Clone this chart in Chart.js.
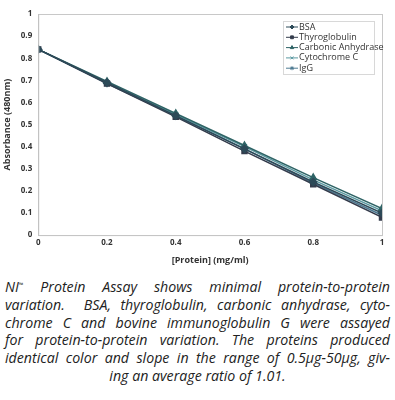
<!DOCTYPE html>
<html>
<head>
<meta charset="utf-8">
<script src="https://cdn.jsdelivr.net/npm/chart.js@4"></script>
<style>
    body { margin: 0; background: #fff; width: 395px; height: 400px; overflow: hidden; }
    #wrap { position: relative; width: 395px; height: 268px; }
    #caption {
        margin: 10px 5px 0 5px;
        font-family: "Open Sans", sans-serif;
        font-style: italic;
        font-size: 14.2px;
        line-height: 17.8px;
        color: #222;
    }
    #caption div { height: 17.8px; text-align: justify; text-align-last: justify; white-space: nowrap; }
    #caption div.last { text-align-last: center; }
    sup { font-size: 6px; line-height: 0; vertical-align: 5px; }
</style>
</head>
<body>
<div id="wrap"><canvas id="lineChart"></canvas></div>
<div id="caption">
    <div>NI<sup>™</sup> Protein Assay shows minimal protein-to-protein</div>
    <div>variation.&nbsp; BSA, thyroglobulin, carbonic anhydrase, cyto-</div>
    <div>chrome C and bovine immunoglobulin G were assayed</div>
    <div>for protein-to-protein variation. The proteins produced</div>
    <div>identical color and slope in the range of 0.5µg-50µg, giv-</div>
    <div class="last">ing an average ratio of 1.01.</div>
</div>
<script>
const proteinConc = [0, 0.2, 0.4, 0.6, 0.8, 1];
const seriesNames = ['BSA', 'Thyroglobulin', 'Carbonic Anhydrase', 'Cytochrome C', 'IgG'];
const bsaValues = [0.84, 0.69, 0.54, 0.39, 0.24, 0.10];
const thyroValues = [0.84, 0.685, 0.535, 0.38, 0.23, 0.08];
const carbonicValues = [0.84, 0.695, 0.55, 0.405, 0.26, 0.12];
const cytoValues = [0.84, 0.69, 0.545, 0.40, 0.25, 0.11];
const iggValues = [0.84, 0.685, 0.54, 0.39, 0.235, 0.09];

const seriesValues = [bsaValues, thyroValues, carbonicValues, cytoValues, iggValues];
const colors = ['#2d4a58', '#343c4c', '#2f6466', '#5b9aa2', '#4d7a92'];
const markers = ['rectRot', 'rect', 'triangle', 'crossRot', 'star'];

const datasets = seriesNames.map((name, i) => ({
    label: name,
    data: proteinConc.map((x, j) => ({ x: x, y: seriesValues[i][j] })),
    borderColor: colors[i],
    backgroundColor: colors[i],
    borderWidth: 1.5,
    pointStyle: markers[i],
    pointRadius: 3.5,
    pointBorderWidth: 1.5,
    tension: 0,
}));

function shortTick(value) {
    return String(parseFloat(Number(value).toFixed(1)));
}

// box round the plot and a small legend in the top right corner
const boxPlugin = {
    id: 'boxPlugin',
    afterDraw(chart) {
        const ctx = chart.ctx;
        const a = chart.chartArea;
        ctx.save();
        ctx.strokeStyle = '#c8c8c8';
        ctx.lineWidth = 1;
        ctx.strokeRect(a.left + 0.5, a.top + 0.5, a.right - a.left, a.bottom - a.top);

        const bx = 283, by = 21, bw = 91, bh = 53;
        ctx.fillStyle = '#fff';
        ctx.fillRect(bx, by, bw, bh);
        ctx.strokeStyle = '#d8d8d8';
        ctx.strokeRect(bx + 0.5, by + 0.5, bw, bh);
        ctx.font = '9px "Open Sans", sans-serif';
        ctx.textBaseline = 'middle';
        chart.data.datasets.forEach((ds, i) => {
            const y = by + 6 + i * 10.3;
            ctx.strokeStyle = ds.borderColor;
            ctx.fillStyle = ds.borderColor;
            ctx.lineWidth = 1;
            ctx.beginPath();
            ctx.moveTo(bx + 3, y);
            ctx.lineTo(bx + 15, y);
            ctx.stroke();
            Chart.helpers.drawPoint(ctx, { pointStyle: ds.pointStyle, radius: 2, borderWidth: 1, rotation: 0 }, bx + 9, y);
            ctx.fillStyle = '#333';
            ctx.fillText(ds.label, bx + 16, y);
        });
        ctx.restore();
    }
};

const chartConfig = {
    type: 'line',
    data: { datasets: datasets },
    options: {
        responsive: false,
        animation: false,
        layout: { padding: { left: 2, right: 13, top: 14, bottom: 2.5 } },
        plugins: { legend: { display: false }, tooltip: { enabled: false } },
        scales: {
            x: {
                type: 'linear',
                min: 0,
                max: 1,
                grid: { display: false, drawTicks: false },
                border: { color: '#b0b0b0' },
                ticks: { stepSize: 0.2, color: '#333', padding: 3, callback: shortTick, font: { family: 'Open Sans', size: 8, weight: 'bold' } },
                title: { display: true, text: '[Protein] (mg/ml)', color: '#333', padding: { top: 4, bottom: 0 }, font: { family: 'Open Sans', size: 9, weight: 'bold' } },
            },
            y: {
                min: 0,
                max: 1,
                grid: { display: false, drawTicks: false },
                border: { color: '#b0b0b0' },
                ticks: { stepSize: 0.1, color: '#333', padding: 6, callback: shortTick, font: { family: 'Open Sans', size: 8, weight: 'bold' } },
                title: { display: true, text: 'Absorbance (480nm)', color: '#333', padding: { top: 0, bottom: 2 }, font: { family: 'Open Sans', size: 9, weight: 'bold' } },
            },
        },
    },
    plugins: [boxPlugin],
};

const canvas = document.getElementById('lineChart');
canvas.width = 395;
canvas.height = 268;
var chart = new Chart(canvas, chartConfig);
</script>
</body>
</html>
